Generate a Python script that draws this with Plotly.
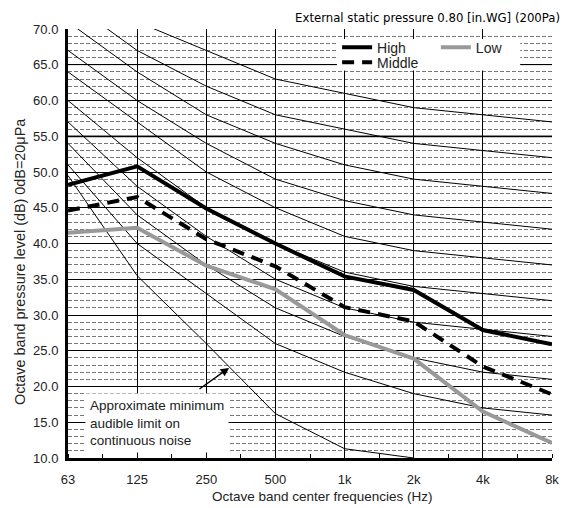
import plotly.graph_objects as go

# octave band centre frequencies
freq_labels = ["63", "125", "250", "500", "1k", "2k", "4k", "8k"]

# measured sound pressure levels (dB)
high = [48.2, 50.8, 44.9, 40.0, 35.4, 33.5, 27.9, 25.9]
middle = [44.6, 46.5, 40.6, 36.8, 31.1, 29.1, 22.8, 18.9]
low = [41.5, 42.2, 36.9, 33.6, 27.2, 23.9, 16.5, 12.1]

# NC reference curves
nc_names = ["NC-60", "NC-55", "NC-50", "NC-45", "NC-40", "NC-35", "NC-30", "NC-25", "NC-20"]
nc_values = [
    [77, 71, 67, 63, 61, 59, 58, 57],
    [74, 67, 62, 58, 56, 54, 53, 52],
    [71, 64, 58, 54, 51, 49, 48, 47],
    [67, 60, 54, 49, 46, 44, 43, 42],
    [64, 57, 50, 45, 41, 39, 38, 37],
    [60, 52, 45, 40, 36, 34, 33, 32],
    [57, 48, 41, 35, 31, 29, 28, 27],
    [54, 44, 37, 31, 27, 24, 22, 21],
    [51, 40, 33, 26, 22, 19, 17, 16],
]

# approximate minimum audible limit (63 Hz .. 2 kHz)
threshold = [49.5, 35.5, 26.0, 16.2, 11.3, 10.0]

xi = list(range(len(freq_labels)))
font = "Liberation Sans, Arial, sans-serif"
narrow = "DejaVu Sans Condensed, Liberation Sans, sans-serif"

fig = go.Figure()

for name, vals in zip(nc_names, nc_values):
    fig.add_trace(go.Scatter(x=xi, y=vals, mode="lines", name=name,
                             line=dict(color="black", width=1), showlegend=False,
                             hoverinfo="skip"))

fig.add_trace(go.Scatter(x=xi[:len(threshold)], y=threshold, mode="lines",
                         line=dict(color="black", width=1), showlegend=False,
                         hoverinfo="skip"))

fig.add_trace(go.Scatter(x=xi, y=high, mode="lines", name="High",
                         line=dict(color="black", width=4), legend="legend"))
fig.add_trace(go.Scatter(x=xi, y=middle, mode="lines", name="Middle",
                         line=dict(color="black", width=4, dash="12px,8px"),
                         legend="legend3"))
fig.add_trace(go.Scatter(x=xi, y=low, mode="lines", name="Low",
                         line=dict(color="#999999", width=4), legend="legend2"))

# gray reference gridlines
for yv, w in [(55, 2.5), (60, 1), (65, 1)]:
    fig.add_shape(type="line", xref="paper", x0=0, x1=1, yref="y", y0=yv, y1=yv,
                  line=dict(color="#8c8c8c", width=w), layer="below")

# white panel behind legend
fig.add_shape(type="rect", x0=3.89, x1=6.54, y0=64.2, y1=68.6,
              fillcolor="white", line=dict(width=0), layer="above")

fig.add_annotation(x=0.246, y=14.9, xanchor="left", yanchor="middle",
                   text="Approximate minimum<br>audible limit on<br>continuous noise",
                   align="left", showarrow=False, bgcolor="white", borderpad=4,
                   font=dict(family=font, size=13.5, color="#222"))
fig.add_annotation(x=2.33, y=22.6, ax=1.88, ay=19.5, axref="x", ayref="y",
                   text="", showarrow=True, arrowhead=2, arrowsize=1.2,
                   arrowwidth=1.4, arrowcolor="black")

# axis titles
fig.add_annotation(xref="paper", yref="paper", x=0.525, y=-0.09,
                   xanchor="center", yanchor="middle", showarrow=False,
                   text="Octave band center frequencies (Hz)",
                   font=dict(family=font, size=13.5, color="#222"))
fig.add_annotation(xref="paper", yref="paper", x=-0.099, y=0.457,
                   xanchor="center", yanchor="middle", showarrow=False,
                   textangle=-90,
                   text="Octave band pressure level (dB) 0dB=20μPa",
                   font=dict(family=font, size=14.4, color="#222"))

leg_style = dict(xanchor="left", yanchor="top", bgcolor="rgba(0,0,0,0)",
                 font=dict(family=font, size=14, color="#222"), itemwidth=30)

fig.update_layout(
    width=560, height=500,
    margin=dict(l=60, r=16, t=21, b=50, autoexpand=False),
    paper_bgcolor="white", plot_bgcolor="white",
    font=dict(family=font, size=13, color="#222"),
    title=dict(text="External static pressure 0.80 [in.WG] (200Pa)",
               xref="container", x=0.9857, xanchor="right", y=0.982, yanchor="middle",
               font=dict(family=narrow, size=13.0, color="black")),
    legend=dict(x=0.556, y=0.994, **leg_style),
    legend3=dict(x=0.556, y=0.959, **leg_style),
    legend2=dict(x=0.760, y=0.994, **leg_style),
)

fig.update_xaxes(
    range=[0, 7], tickvals=xi, ticktext=freq_labels,
    showgrid=True, gridcolor="black", gridwidth=1,
    showline=True, linecolor="black", linewidth=3, mirror=False,
    zeroline=False, ticks="", ticklabelstandoff=7, ticklabeloverflow="allow",
    tickfont=dict(size=13, color="#222"),
    minor=dict(dtick=0.5, tick0=0, ticks="inside", ticklen=4,
               tickcolor="black", showgrid=False),
)
fig.update_yaxes(
    range=[10, 70], dtick=5, tickformat=".1f",
    showgrid=True, gridcolor="black", gridwidth=1,
    showline=True, linecolor="black", linewidth=3,
    zeroline=False, ticks="", ticklabelstandoff=4,
    tickfont=dict(size=13, color="#222"),
    minor=dict(dtick=1, showgrid=True, gridcolor="#777777",
               griddash="4px,2px", gridwidth=1),
)

fig.write_html("out.html")
